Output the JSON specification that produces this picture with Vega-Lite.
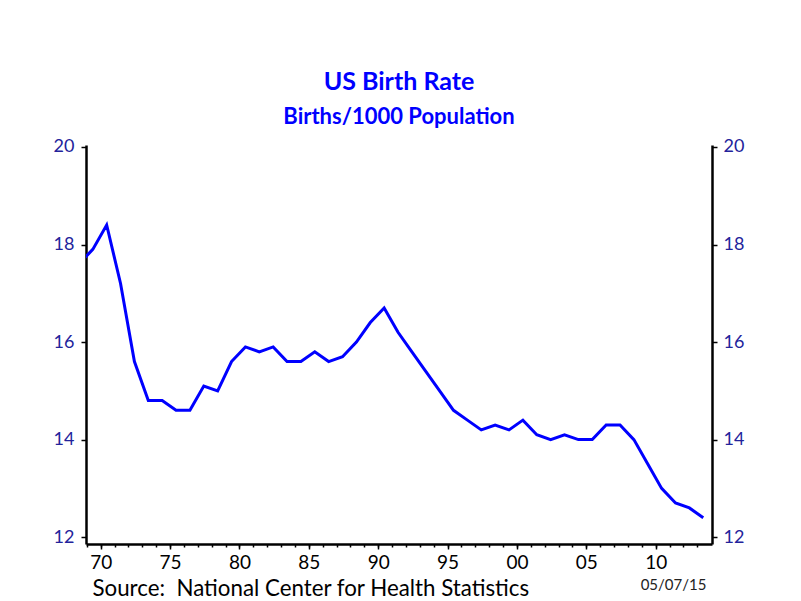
{
  "$schema": "https://vega.github.io/schema/vega-lite/v6.json",
  "width": 626,
  "height": 399,
  "autosize": {"type": "none"},
  "padding": {"left": 86, "top": 145, "right": 89, "bottom": 57},
  "background": "white",
  "config": {
    "view": {"stroke": null},
    "font": "Lato",
    "axis": {"grid": false, "labelFont": "Lato", "titleFont": "Lato"}
  },
  "title": {
    "text": "US Birth Rate",
    "subtitle": "Births/1000 Population",
    "font": "Lato",
    "subtitleFont": "Lato",
    "fontSize": 25,
    "subtitleFontSize": 22,
    "fontWeight": "bold",
    "subtitleFontWeight": "bold",
    "color": "#0000ff",
    "subtitleColor": "#0000ff",
    "anchor": "middle",
    "offset": 10,
    "subtitlePadding": 12
  },
  "data": {
    "values": [
      {"year": 1968, "rate": 17.6},
      {"year": 1969, "rate": 17.9},
      {"year": 1970, "rate": 18.4},
      {"year": 1971, "rate": 17.2},
      {"year": 1972, "rate": 15.6},
      {"year": 1973, "rate": 14.8},
      {"year": 1974, "rate": 14.8},
      {"year": 1975, "rate": 14.6},
      {"year": 1976, "rate": 14.6},
      {"year": 1977, "rate": 15.1},
      {"year": 1978, "rate": 15.0},
      {"year": 1979, "rate": 15.6},
      {"year": 1980, "rate": 15.9},
      {"year": 1981, "rate": 15.8},
      {"year": 1982, "rate": 15.9},
      {"year": 1983, "rate": 15.6},
      {"year": 1984, "rate": 15.6},
      {"year": 1985, "rate": 15.8},
      {"year": 1986, "rate": 15.6},
      {"year": 1987, "rate": 15.7},
      {"year": 1988, "rate": 16.0},
      {"year": 1989, "rate": 16.4},
      {"year": 1990, "rate": 16.7},
      {"year": 1991, "rate": 16.2},
      {"year": 1992, "rate": 15.8},
      {"year": 1993, "rate": 15.4},
      {"year": 1994, "rate": 15.0},
      {"year": 1995, "rate": 14.6},
      {"year": 1996, "rate": 14.4},
      {"year": 1997, "rate": 14.2},
      {"year": 1998, "rate": 14.3},
      {"year": 1999, "rate": 14.2},
      {"year": 2000, "rate": 14.4},
      {"year": 2001, "rate": 14.1},
      {"year": 2002, "rate": 14.0},
      {"year": 2003, "rate": 14.1},
      {"year": 2004, "rate": 14.0},
      {"year": 2005, "rate": 14.0},
      {"year": 2006, "rate": 14.3},
      {"year": 2007, "rate": 14.3},
      {"year": 2008, "rate": 14.0},
      {"year": 2009, "rate": 13.5},
      {"year": 2010, "rate": 13.0},
      {"year": 2011, "rate": 12.7},
      {"year": 2012, "rate": 12.6},
      {"year": 2013, "rate": 12.4}
    ]
  },
  "layer": [
    {
      "mark": {"type": "line", "clip": true, "color": "#0000ff", "strokeWidth": 3, "strokeJoin": "miter"},
      "encoding": {
        "x": {
          "field": "year",
          "type": "quantitative",
          "scale": {"domain": [1968.51, 2013.63], "nice": false, "zero": false},
          "axis": {
            "orient": "bottom",
            "values": [1969.57, 1974.57, 1979.57, 1984.57, 1989.57, 1994.57, 1999.57, 2004.57, 2009.57],
            "labelExpr": "format(round(datum.value + 0.43) % 100, '02d')",
            "labelDx": 9.5,
            "labelFontSize": 19,
            "labelColor": "#000000",
            "labelPadding": 4,
            "tickSize": 5,
            "tickWidth": 1.5,
            "tickColor": "#000000",
            "domain": false,
            "title": "Source:\u00a0 National Center for Health Statistics",
            "titleFontSize": 22.3,
            "titleFontWeight": "normal",
            "titleColor": "#000000",
            "titleAnchor": "start",
            "titleAlign": "left",
            "titleBaseline": "alphabetic",
            "titleX": 6,
            "titleY": 51
          }
        },
        "y": {
          "field": "rate",
          "type": "quantitative",
          "scale": {"domain": [11.86, 20.04], "nice": false, "zero": false},
          "axis": {
            "orient": "left",
            "values": [12, 14, 16, 18, 20],
            "labelFontSize": 18,
            "labelColor": "#23239b",
            "labelPadding": 7,
            "tickSize": 5,
            "tickWidth": 1.5,
            "tickColor": "#000000",
            "domainColor": "#000000",
            "domainWidth": 2.5,
            "title": null
          }
        }
      }
    },
    {
      "mark": {"type": "line", "clip": true, "strokeOpacity": 0},
      "encoding": {
        "x": {
          "field": "year",
          "type": "quantitative",
          "scale": {"domain": [1968.51, 2013.63], "nice": false, "zero": false},
          "axis": {
            "orient": "bottom",
            "values": [1968.57, 1969.57, 1970.57, 1971.57, 1972.57, 1973.57, 1974.57, 1975.57, 1976.57, 1977.57, 1978.57, 1979.57, 1980.57, 1981.57, 1982.57, 1983.57, 1984.57, 1985.57, 1986.57, 1987.57, 1988.57, 1989.57, 1990.57, 1991.57, 1992.57, 1993.57, 1994.57, 1995.57, 1996.57, 1997.57, 1998.57, 1999.57, 2000.57, 2001.57, 2002.57, 2003.57, 2004.57, 2005.57, 2006.57, 2007.57, 2008.57, 2009.57, 2010.57, 2011.57, 2012.57],
            "labels": false,
            "tickSize": 3,
            "tickWidth": 1.5,
            "tickColor": "#000000",
            "domainColor": "#000000",
            "domainWidth": 2.5,
            "title": null
          }
        },
        "y": {
          "field": "rate",
          "type": "quantitative",
          "scale": {"domain": [11.86, 20.04], "nice": false, "zero": false},
          "axis": {
            "orient": "right",
            "values": [12, 14, 16, 18, 20],
            "labelFontSize": 18,
            "labelColor": "#23239b",
            "labelPadding": 6,
            "tickSize": 5,
            "tickWidth": 1.5,
            "tickColor": "#000000",
            "domainColor": "#000000",
            "domainWidth": 2.5,
            "title": "05/07/15",
            "titleAngle": 0,
            "titleFontSize": 15,
            "titleFontWeight": "normal",
            "titleColor": "#222222",
            "titleAlign": "center",
            "titleBaseline": "alphabetic",
            "titleX": -39,
            "titleY": 444
          }
        }
      }
    }
  ],
  "resolve": {"axis": {"x": "independent", "y": "independent"}}
}
